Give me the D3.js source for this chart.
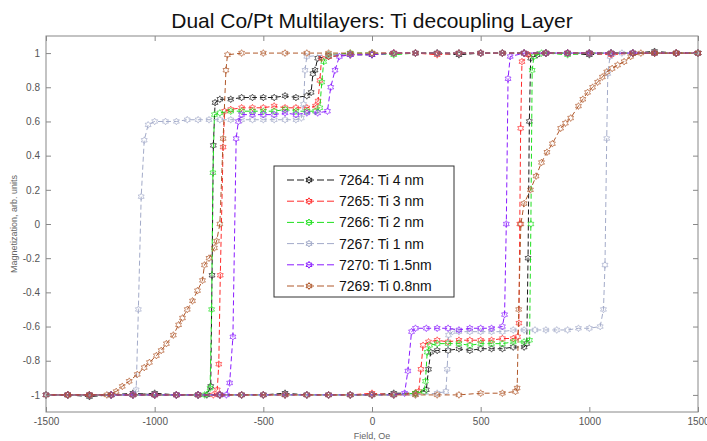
<!DOCTYPE html>
<html>
<head>
<meta charset="utf-8">
<script src="https://cdn.jsdelivr.net/npm/d3@7"></script>
<style>
  body { margin: 0; background: #fff; }
  svg { font-family: "Liberation Sans", Arial, sans-serif; }
</style>
</head>
<body>
<div class="graph"></div>
<script>
// tick values
var fieldTicks = [-1500, -1000, -500, 0, 500, 1000, 1500];
var magTicks = [-1, -0.8, -0.6, -0.4, -0.2, 0, 0.2, 0.4, 0.6, 0.8, 1];

var seriesNames = ["7264: Ti 4 nm", "7265: Ti 3 nm", "7266: Ti 2 nm", "7267: Ti 1 nm", "7270: Ti 1.5nm", "7269: Ti 0.8nm"];
var seriesColors = ["#1a1a1a", "#ff2a2a", "#1fe01f", "#a3abc9", "#8a1cff", "#b0582a"];

// each loop: descending branch (1500 -> -1500) then ascending branch (-1500 -> 1500), [field Oe, magnetization]
var loop7264 = [[1500,1],[1400,1],[1300,1.01],[1200,1],[1100,1],[1000,0.99],[900,1],[800,1],[700,1],[600,1],[500,1],[400,0.99],[300,1],[200,1],[100,1],[0,0.99],[-100,0.99],[-200,0.98],[-250,0.97],[-262,0.9],[-272,0.88],[-280,0.77],[-300,0.75],[-350,0.74],[-400,0.75],[-450,0.74],[-500,0.74],[-550,0.74],[-600,0.74],[-650,0.73],[-700,0.73],[-722,0.71],[-730,0.46],[-736,-0.3],[-742,-0.95],[-760,-1],[-800,-1],[-900,-1],[-1000,-1],[-1100,-0.99],[-1200,-1],[-1300,-1],[-1400,-1],[-1500,-1],
  [-1400,-1],[-1300,-1.01],[-1200,-1],[-1100,-1],[-1000,-0.99],[-900,-1],[-800,-1],[-700,-1],[-600,-1],[-500,-1],[-400,-0.99],[-300,-1],[-200,-1],[-100,-1],[0,-1],[100,-0.99],[200,-0.99],[250,-0.97],[260,-0.85],[270,-0.75],[300,-0.74],[350,-0.74],[400,-0.73],[450,-0.74],[500,-0.73],[550,-0.73],[600,-0.73],[650,-0.72],[700,-0.72],[712,-0.7],[718,-0.2],[724,0.6],[730,0.97],[760,0.99],[800,1],[900,1],[1000,1],[1100,1],[1200,1],[1300,1],[1400,1],[1500,1]];

var loop7265 = [[1500,1],[1400,1],[1300,1],[1200,1],[1100,0.99],[1000,1],[900,1],[800,1],[700,1],[600,1],[500,1],[400,1],[300,0.99],[200,1],[100,1],[0,1],[-100,0.99],[-200,0.98],[-232,0.97],[-240,0.84],[-248,0.72],[-260,0.69],[-300,0.68],[-350,0.68],[-400,0.68],[-450,0.69],[-500,0.68],[-550,0.68],[-600,0.68],[-650,0.67],[-678,0.66],[-685,0.45],[-698,-0.3],[-705,-0.82],[-712,-0.97],[-730,-1],[-800,-1],[-900,-1],[-1000,-1],[-1100,-1],[-1200,-1],[-1300,-1],[-1400,-1],[-1500,-1],
  [-1400,-1],[-1300,-1],[-1200,-1],[-1100,-1],[-1000,-1],[-900,-1],[-800,-1],[-700,-1],[-600,-1],[-500,-1],[-400,-1],[-300,-1],[-200,-1],[-100,-1],[0,-0.99],[100,-1],[200,-0.99],[215,-0.98],[225,-0.85],[235,-0.71],[260,-0.69],[300,-0.68],[350,-0.69],[400,-0.68],[450,-0.68],[500,-0.68],[550,-0.68],[600,-0.67],[650,-0.67],[670,-0.66],[676,-0.58],[680,0.0],[684,0.56],[690,0.95],[720,0.99],[800,1],[900,1],[1000,1],[1100,1],[1200,1],[1300,1],[1400,1],[1500,1]];

var loop7266 = [[1500,1],[1400,1],[1300,1],[1200,1],[1100,1],[1000,1],[900,0.99],[800,1],[700,1],[600,1],[500,1],[400,1],[300,1],[200,1],[100,0.99],[0,1],[-100,1],[-200,0.99],[-222,0.95],[-231,0.83],[-240,0.68],[-260,0.66],[-300,0.66],[-350,0.66],[-400,0.67],[-450,0.66],[-500,0.66],[-550,0.66],[-600,0.66],[-650,0.66],[-700,0.65],[-725,0.64],[-732,0.3],[-738,-0.5],[-745,-0.96],[-770,-1],[-800,-1],[-900,-1],[-1000,-1],[-1100,-1],[-1200,-1],[-1300,-1],[-1400,-1],[-1500,-1],
  [-1400,-1],[-1300,-1],[-1200,-1],[-1100,-1],[-1000,-1],[-900,-1],[-800,-1],[-700,-1],[-600,-1],[-500,-1],[-400,-1],[-300,-1],[-200,-1],[-100,-1],[0,-1],[100,-1],[200,-0.99],[240,-0.98],[246,-0.92],[254,-0.75],[265,-0.71],[300,-0.7],[350,-0.7],[400,-0.7],[450,-0.71],[500,-0.7],[550,-0.7],[600,-0.7],[650,-0.69],[700,-0.69],[725,-0.68],[731,0.0],[737,0.9],[745,0.98],[780,1],[800,1],[900,1],[1000,1],[1100,1],[1200,1],[1300,1],[1400,1],[1500,1]];

var loop7267 = [[1500,1],[1400,1],[1300,1],[1200,1],[1100,1],[1000,1],[900,1],[800,1],[700,1],[600,1],[500,1],[400,1],[300,1],[200,1],[100,1],[0,1],[-100,0.99],[-200,0.99],[-300,0.98],[-308,0.9],[-315,0.7],[-325,0.62],[-350,0.61],[-400,0.61],[-450,0.61],[-500,0.61],[-550,0.61],[-600,0.61],[-650,0.61],[-700,0.61],[-750,0.61],[-800,0.61],[-850,0.61],[-900,0.6],[-950,0.6],[-1000,0.6],[-1030,0.58],[-1048,0.49],[-1062,0.16],[-1075,-0.5],[-1085,-0.97],[-1100,-1],[-1200,-1],[-1300,-1],[-1400,-1],[-1500,-1],
  [-1400,-1],[-1300,-1],[-1200,-1],[-1100,-1],[-1000,-1],[-900,-1],[-800,-1],[-700,-1],[-600,-1],[-500,-1],[-400,-1],[-300,-1],[-200,-1],[-100,-1],[0,-1],[100,-1],[200,-1],[300,-0.99],[340,-0.98],[346,-0.85],[352,-0.65],[370,-0.63],[400,-0.63],[450,-0.63],[500,-0.63],[550,-0.63],[600,-0.63],[650,-0.62],[700,-0.62],[750,-0.62],[800,-0.62],[850,-0.62],[900,-0.62],[950,-0.61],[1000,-0.61],[1050,-0.6],[1065,-0.5],[1072,-0.24],[1080,0.5],[1085,0.88],[1095,0.98],[1150,1],[1200,1],[1300,1],[1400,1],[1500,1]];

var loop7270 = [[1500,1],[1400,1],[1300,1],[1200,1],[1100,1],[1000,1],[900,1],[800,1],[700,1],[600,1],[500,1],[400,1],[300,1],[200,1],[100,1],[0,0.99],[-100,0.99],[-150,0.98],[-170,0.9],[-190,0.8],[-205,0.66],[-250,0.65],[-300,0.65],[-350,0.64],[-400,0.65],[-450,0.64],[-500,0.64],[-550,0.64],[-600,0.64],[-615,0.6],[-625,0.5],[-640,-0.66],[-655,-0.93],[-670,-1],[-700,-1],[-800,-1],[-900,-1],[-1000,-1],[-1100,-1],[-1200,-1],[-1300,-1],[-1400,-1],[-1500,-1],
  [-1400,-1],[-1300,-1],[-1200,-1],[-1100,-1],[-1000,-1],[-900,-1],[-800,-1],[-700,-1],[-600,-1],[-500,-1],[-400,-1],[-300,-1],[-200,-1],[-100,-1],[0,-1],[100,-1],[150,-0.99],[165,-0.86],[182,-0.63],[200,-0.61],[250,-0.61],[300,-0.61],[350,-0.61],[400,-0.62],[450,-0.61],[500,-0.61],[550,-0.61],[600,-0.6],[610,-0.53],[618,0.0],[626,0.85],[636,0.98],[700,1],[800,1],[900,1],[1000,1],[1100,1],[1200,1],[1300,1],[1400,1],[1500,1]];

var loop7269 = [[1500,1],[1400,1],[1300,1],[1200,1],[1100,1],[1000,1],[900,1],[800,1],[700,1],[600,1],[500,1],[400,1],[300,1],[200,1],[100,1],[0,1],[-100,1],[-200,1],[-300,1],[-400,1],[-500,1],[-600,1],[-665,0.99],[-672,0.9],[-685,0.5],[-700,0.0],[-715,-0.1],[-725,-0.14],[-750,-0.2],[-771,-0.24],[-780,-0.33],[-803,-0.39],[-826,-0.45],[-850,-0.5],[-872,-0.55],[-890,-0.59],[-914,-0.65],[-946,-0.7],[-970,-0.74],[-992,-0.77],[-1024,-0.81],[-1048,-0.84],[-1080,-0.88],[-1117,-0.92],[-1149,-0.95],[-1177,-0.98],[-1220,-1],[-1300,-1],[-1400,-1],[-1500,-1],
  [-1400,-1],[-1300,-1],[-1200,-1],[-1100,-1],[-1000,-1],[-900,-1],[-800,-1],[-700,-1],[-600,-1],[-500,-1],[-400,-1],[-300,-1],[-200,-1],[-100,-1],[0,-1],[100,-1],[200,-1],[300,-1],[400,-1],[500,-0.99],[600,-0.99],[660,-0.98],[668,-0.96],[675,-0.5],[685,0.0],[700,0.12],[729,0.2],[755,0.28],[780,0.36],[805,0.42],[830,0.47],[868,0.56],[890,0.59],[914,0.62],[950,0.69],[970,0.73],[992,0.77],[1015,0.8],[1038,0.83],[1060,0.86],[1080,0.89],[1105,0.91],[1130,0.93],[1160,0.95],[1190,0.98],[1237,1],[1300,1],[1400,1],[1500,1]];

var loops = [loop7264, loop7265, loop7266, loop7267, loop7270, loop7269];

var margin = {top: 36, right: 9, bottom: 29, left: 46},
    width = 707 - margin.left - margin.right,
    height = 441 - margin.top - margin.bottom;

var x = d3.scaleLinear().domain([-1500, 1500]).range([0, width]);
var y = d3.scaleLinear().domain([-1.1, 1.1]).range([height, 0]);

var svgRoot = d3.select(".graph").append("svg")
    .attr("width", 707)
    .attr("height", 441);

svgRoot.append("text")
    .attr("x", margin.left + width / 2)
    .attr("y", 28)
    .attr("text-anchor", "middle")
    .style("font-size", "21px")
    .style("fill", "#111")
    .text("Dual Co/Pt Multilayers: Ti decoupling Layer");

var svg = svgRoot.append("g")
    .attr("transform", "translate(" + margin.left + "," + margin.top + ")");

svg.append("rect")
    .attr("width", width)
    .attr("height", height)
    .attr("fill", "#fff");

// hexagram marker
function hexagram(r) {
  var p = [];
  for (var i = 0; i < 12; i++) {
    var a = Math.PI / 6 * i - Math.PI / 2;
    var rr = (i % 2 === 0) ? r : r * 0.58;
    p.push([rr * Math.cos(a), rr * Math.sin(a)]);
  }
  return "M" + p.join("L") + "Z";
}
var markerPath = hexagram(3.4);

var valueline = d3.line()
    .x(function(d) { return x(d[0]); })
    .y(function(d) { return y(d[1]); });

var plot = svg.append("g");

loops.forEach(function(data, i) {
  plot.append("path")
      .datum(data)
      .attr("fill", "none")
      .attr("stroke", seriesColors[i])
      .attr("stroke-width", 1)
      .attr("stroke-dasharray", "5,3")
      .attr("d", valueline);

  plot.selectAll(".m" + i)
      .data(data)
      .enter().append("path")
      .attr("class", "m" + i)
      .attr("transform", function(d) { return "translate(" + x(d[0]) + "," + y(d[1]) + ")"; })
      .attr("d", markerPath)
      .attr("fill", "none")
      .attr("stroke", seriesColors[i])
      .attr("stroke-width", 0.8)
      .attr("opacity", 0.85);
});

// axes, ticks pointing in
function styleAxis(g) {
  g.select(".domain").remove();
  g.selectAll(".tick line").attr("stroke", "#888");
  g.selectAll(".tick text").attr("fill", "#555").style("font-size", "10px");
}

svg.append("g")
    .attr("transform", "translate(0," + height + ")")
    .call(d3.axisBottom(x).tickValues(fieldTicks).tickSize(-5).tickPadding(6).tickFormat(function(d) { return d; }))
    .call(styleAxis);

svg.append("g")
    .call(d3.axisTop(x).tickValues(fieldTicks).tickSize(-5).tickFormat(""))
    .call(styleAxis);

svg.append("g")
    .call(d3.axisLeft(y).tickValues(magTicks).tickSize(-5).tickPadding(6).tickFormat(function(d) { return d; }))
    .call(styleAxis);

svg.append("g")
    .attr("transform", "translate(" + width + ",0)")
    .call(d3.axisRight(y).tickValues(magTicks).tickSize(-5).tickFormat(""))
    .call(styleAxis);

svg.append("rect")
    .attr("width", width)
    .attr("height", height)
    .attr("fill", "none")
    .attr("stroke", "#888")
    .attr("stroke-width", 1);

svg.append("text")
    .attr("x", width / 2)
    .attr("y", height + 27)
    .attr("text-anchor", "middle")
    .style("font-size", "9px")
    .style("fill", "#666")
    .text("Field, Oe");

svg.append("text")
    .attr("transform", "translate(" + (14 - margin.left) + "," + (height / 2) + ") rotate(-90)")
    .attr("text-anchor", "middle")
    .attr("dy", "0.35em")
    .style("font-size", "9px")
    .style("fill", "#666")
    .text("Magnetization, arb. units");

// legend
var legend = svg.append("g")
    .attr("transform", "translate(" + (274 - margin.left) + "," + (166 - margin.top) + ")");

legend.append("rect")
    .attr("width", 180)
    .attr("height", 131)
    .attr("fill", "#fff")
    .attr("stroke", "#333")
    .attr("stroke-width", 1);

seriesNames.forEach(function(name, i) {
  var row = legend.append("g")
      .attr("transform", "translate(0," + (14 + i * 21.2) + ")");
  row.append("line")
      .attr("x1", 13).attr("x2", 61)
      .attr("stroke", seriesColors[i])
      .attr("stroke-dasharray", "7,3");
  row.append("path")
      .attr("transform", "translate(35,0)")
      .attr("d", markerPath)
      .attr("fill", "none")
      .attr("stroke", seriesColors[i]);
  row.append("text")
      .attr("x", 65)
      .attr("dy", "0.35em")
      .style("font-size", "14px")
      .style("fill", "#111")
      .text(name);
});
</script>
</body>
</html>
